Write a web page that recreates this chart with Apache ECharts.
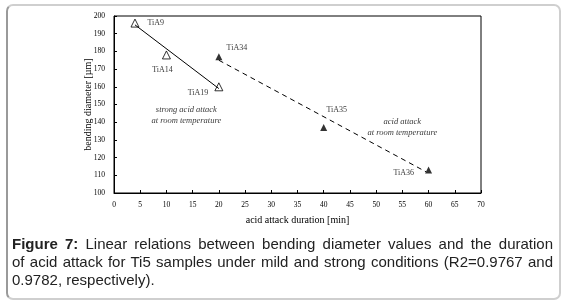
<!DOCTYPE html>
<html>
<head>
<meta charset="utf-8">
<script src="https://cdn.jsdelivr.net/npm/echarts@6/dist/echarts.min.js"></script>
<style>
  html, body { margin: 0; padding: 0; background: #fff; }
  #wrap { position: relative; width: 566px; height: 301px; overflow: hidden; }
  #box {
    position: absolute; left: 6px; top: 4px; width: 551px; height: 292px;
    border: 2px solid #cfcfcf; border-left-color: #9a9a9a; border-radius: 7px;
  }
  #chart { position: absolute; left: 0; top: 0; width: 566px; height: 301px; }
  #caption {
    position: absolute; left: 12px; top: 235px; width: 541px;
    font-family: "Liberation Sans", Arial, sans-serif; font-size: 15px;
    line-height: 18px; color: #222;
  }
  #caption .ln { text-align: justify; text-align-last: justify; }
  #caption .last { text-align: left; }
</style>
</head>
<body>
<div id="wrap">
  <div id="box"></div>
  <div id="chart"></div>
  <div id="caption">
    <div class="ln"><b>Figure 7:</b> Linear relations between bending diameter values and the duration</div>
    <div class="ln">of acid attack for Ti5 samples under mild and strong conditions (R2=0.9767 and</div>
    <div class="last">0.9782, respectively).</div>
  </div>
</div>
<script>
// strong acid attack (open triangles)
var strongNames = ['TiA9', 'TiA14', 'TiA19'];
var strongX = [4, 10, 20];
var strongY = [196, 178, 160];
var strongFit = [[4, 195], [20, 159]];

// acid attack (filled triangles)
var mildNames = ['TiA34', 'TiA35', 'TiA36'];
var mildX = [20, 40, 60];
var mildY = [177, 137, 113];
var mildFit = [[20, 175], [59.5, 112]];

var notes = [
  { x: 13.8, y: 144, text: 'strong acid attack\nat room temperature' },
  { x: 55, y: 137, text: 'acid attack\nat room temperature' }
];

// label placement per point
var labelPlace = {
  TiA9: { position: 'right', offset: [3, 0] },
  TiA14: { position: 'bottom', offset: [-4, 1] },
  TiA19: { position: 'left', offset: [-1, 6] },
  TiA34: { position: 'top', offset: [18, 4] },
  TiA35: { position: 'top', offset: [13, -5] },
  TiA36: { position: 'left', offset: [-6, 3] }
};

var serif = '"Liberation Serif", "DejaVu Serif", serif';

function points(names, xs, ys) {
  return names.map(function (n, i) {
    var p = labelPlace[n];
    return {
      name: n,
      value: [xs[i], ys[i]],
      label: { show: true, formatter: n, position: p.position, offset: p.offset }
    };
  });
}

var myChart = echarts.init(document.getElementById('chart'));
var option = {
  animation: false,
  grid: {
    left: 114, right: 85, top: 16, bottom: 108,
    show: true, borderColor: '#000', borderWidth: 1, backgroundColor: 'transparent'
  },
  xAxis: {
    type: 'value', min: 0, max: 70, interval: 5,
    name: 'acid attack duration [min]', nameLocation: 'middle', nameGap: 22,
    nameMoveOverlap: false,
    nameTextStyle: { fontFamily: serif, fontSize: 10, color: '#000' },
    axisLine: { lineStyle: { color: '#000', width: 1 } },
    axisTick: { inside: true, length: 3, lineStyle: { color: '#000' } },
    axisLabel: { fontFamily: serif, fontSize: 7.5, color: '#000', margin: 8 },
    splitLine: { show: false }
  },
  yAxis: {
    type: 'value', min: 100, max: 200, interval: 10,
    name: 'bending diameter [µm]', nameLocation: 'middle', nameGap: 21,
    nameMoveOverlap: false,
    nameTextStyle: { fontFamily: serif, fontSize: 10, color: '#000' },
    axisLine: { show: true, lineStyle: { color: '#000', width: 1 } },
    axisTick: { show: true, inside: true, length: 3, lineStyle: { color: '#000' } },
    axisLabel: { fontFamily: serif, fontSize: 7.5, color: '#000', margin: 9 },
    splitLine: { show: false }
  },
  series: [
    {
      name: 'strong fit', type: 'line', data: strongFit, showSymbol: false,
      lineStyle: { color: '#000', width: 1 }, silent: true
    },
    {
      name: 'mild fit', type: 'line', data: mildFit, showSymbol: false,
      lineStyle: { color: '#000', width: 1, type: [5, 4] }, silent: true
    },
    {
      name: 'strong', type: 'scatter', symbol: 'triangle', symbolSize: 8,
      itemStyle: { color: '#fff', borderColor: '#000', borderWidth: 1 },
      label: { fontFamily: serif, fontSize: 8, color: '#000' },
      data: points(strongNames, strongX, strongY)
    },
    {
      name: 'mild', type: 'scatter', symbol: 'triangle', symbolSize: 7,
      itemStyle: { color: '#000' },
      label: { fontFamily: serif, fontSize: 8, color: '#000' },
      data: points(mildNames, mildX, mildY)
    },
    {
      name: 'notes', type: 'scatter', symbolSize: 0, silent: true,
      label: {
        show: true, position: 'inside', fontFamily: serif, fontStyle: 'italic',
        fontSize: 8.5, lineHeight: 11, color: '#000', align: 'center',
        formatter: function (p) { return notes[p.dataIndex].text; }
      },
      data: notes.map(function (n) { return [n.x, n.y]; })
    }
  ]
};
myChart.setOption(option);
</script>
</body>
</html>
